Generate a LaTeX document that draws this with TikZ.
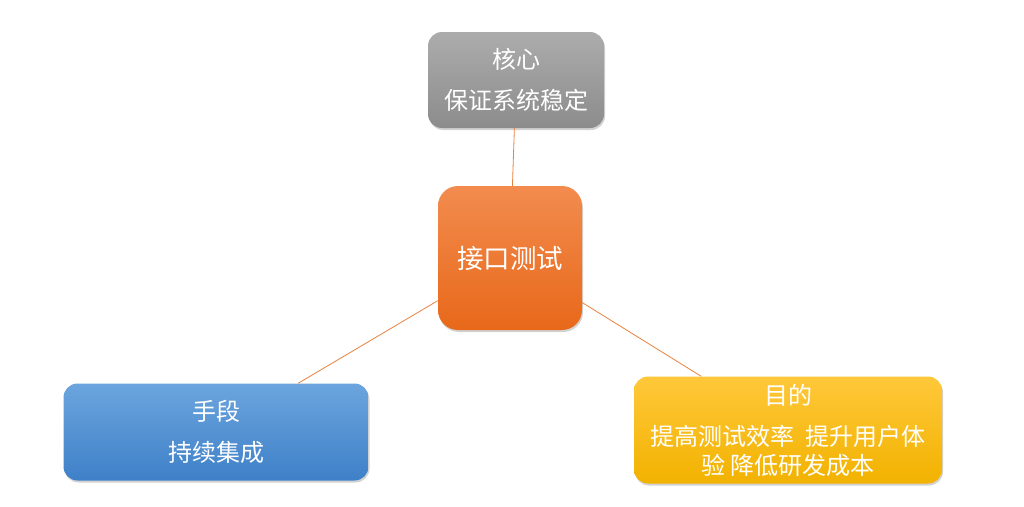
\documentclass[tikz,border=0pt]{standalone}
\usepackage{fontspec}
\setmainfont{Noto Sans CJK SC}
\usetikzlibrary{shadows}
\definecolor{linkorange}{HTML}{E8823F}
\tikzstyle{box}=[rounded corners=14pt, text=white, align=center, inner sep=0pt,
  font=\fontsize{24}{41}\selectfont, drop shadow={opacity=0.35, shadow xshift=1pt, shadow yshift=-2pt}]
\tikzstyle{link} = [draw=linkorange, line width=0.8pt]

\begin{document}
\begin{tikzpicture}[x=1pt, y=-1pt]
    \useasboundingbox [fill=white] (0,0) rectangle (1024,506);
    \node [box, minimum width=176pt, minimum height=96pt,
        top color={rgb,255:red,172;green,172;blue,172}, bottom color={rgb,255:red,140;green,140;blue,140}]
        (core) at (516,80) {核心\\保证系统稳定};
    \node [box, rounded corners=20pt, minimum width=144pt, minimum height=144pt,
        top color={rgb,255:red,242;green,140;blue,78}, bottom color={rgb,255:red,232;green,104;blue,26},
        font=\fontsize{26.5}{30}\selectfont] (test) at (510,258) {接口测试};
    \node [box, minimum width=305pt, minimum height=97pt,
        top color={rgb,255:red,108;green,165;blue,222}, bottom color={rgb,255:red,62;green,128;blue,200}]
        (means) at (216,432) {手段\\持续集成};
    \node [box, minimum width=308pt, minimum height=107pt,
        top color={rgb,255:red,255;green,200;blue,58}, bottom color={rgb,255:red,242;green,178;blue,0},
        font=\fontsize{24}{29}\selectfont] (goal) at (788,430) {目的\\[12pt]提高测试效率\ \ 提升用户体\\验 降低研发成本};

    \path (core) edge[link] (test);
    \path (test) edge[link] (means);
    \path (test) edge[link] (goal);
\end{tikzpicture}
\end{document}
